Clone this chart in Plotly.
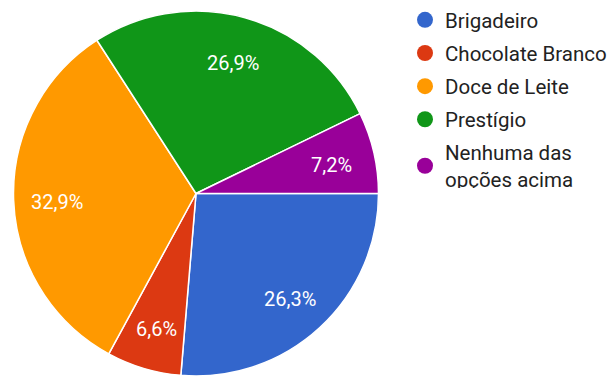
import math
import plotly.graph_objects as go

# Survey results: favourite brigadeiro flavour (percent of answers)
categories = ["Brigadeiro", "Chocolate Branco", "Doce de Leite", "Prestígio", "Nenhuma das opções acima"]
legend_labels = ["Brigadeiro", "Chocolate Branco", "Doce de Leite", "Prestígio", "Nenhuma das<br>opções acima"]
values = [26.3, 6.6, 32.9, 26.9, 7.2]
colors = ["#3366cc", "#dc3912", "#ff9900", "#109618", "#990099"]

# Percent labels written with a decimal comma
text_labels = [f"{v:.1f}".replace(".", ",") + "%" for v in values]

W, H = 611, 376
M_TOP = 11
plot_h = H - M_TOP
radius_px = plot_h / 2
cx_px = 13.5 + radius_px

fig = go.Figure()

fig.add_trace(go.Pie(
    labels=categories,
    values=values,
    textinfo="none",
    marker=dict(colors=colors, line=dict(color="white", width=1.5)),
    sort=False,
    direction="clockwise",
    rotation=90,
    showlegend=False,
    domain=dict(x=[13.5 / W, (13.5 + plot_h) / W], y=[0, 1]),
    hoverinfo="label+percent",
))

# Percent labels placed along each slice's bisector at 3/4 of the radius
total = sum(values)
cum = 0.0
for v, t in zip(values, text_labels):
    mid = (cum + v / 2) / total
    cum += v
    ang = -2 * math.pi * mid  # clockwise from 3 o'clock
    rr = 0.76 * radius_px
    fig.add_annotation(
        x=(cx_px + rr * math.cos(ang)) / W,
        y=0.5 + (rr * math.sin(ang) - 3) / plot_h,
        xref="paper", yref="paper",
        text=t, showarrow=False,
        font=dict(color="white", size=20, family="Roboto"),
        xanchor="center", yanchor="middle",
    )

# Legend entries with round swatches
for name, c in zip(legend_labels, colors):
    fig.add_trace(go.Scatter(
        x=[None], y=[None], mode="markers", name=name,
        marker=dict(color=c, size=16, symbol="circle"),
        legendgroup=name, showlegend=True, hoverinfo="skip",
    ))

fig.update_layout(
    width=W, height=H,
    margin=dict(l=0, r=0, t=M_TOP, b=0, autoexpand=False),
    paper_bgcolor="white",
    plot_bgcolor="white",
    font=dict(family="Roboto", size=20.5, color="#222222"),
    xaxis=dict(visible=False),
    yaxis=dict(visible=False),
    legend=dict(
        x=(425 - 20) / W, xanchor="left",
        y=1.0 + 11 / plot_h, yanchor="top",
        bgcolor="rgba(0,0,0,0)",
        tracegroupgap=3.5,
        itemclick=False, itemdoubleclick=False,
    ),
)

fig.write_html("out.html")
